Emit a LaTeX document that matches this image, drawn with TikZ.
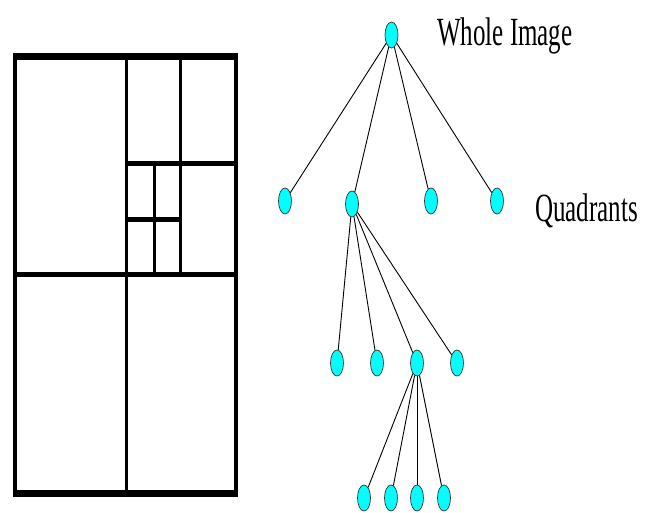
\documentclass[tikz,border=0pt]{standalone}
\usepackage{fontspec}
\usepackage{graphicx}
\setmainfont{Liberation Serif}
\usetikzlibrary{shapes.geometric}
\definecolor{aqua}{RGB}{0,255,255}
\begin{document}
\begin{tikzpicture}[x=1pt,y=-1pt,
  dot/.style={ellipse,draw=black!80,line width=0.7pt,fill=aqua,minimum width=13pt,minimum height=26pt,inner sep=0pt},
  link/.style={line width=0.9pt,black},
  hline/.style={line width=5pt},
  vline/.style={line width=3pt},
  lbl/.style={anchor=base west,inner sep=0pt,font=\fontsize{25}{28}\selectfont}]
\useasboundingbox[fill=white] (0,0) rectangle (654,513);
% quadtree grid
\draw[line width=7pt] (13.3,57) -- (238.3,57);
\draw[line width=7pt] (13.3,493.7) -- (238.3,493.7);
\draw[line width=4pt] (15.3,53.5) -- (15.3,497.2);
\draw[line width=4pt] (236.3,53.5) -- (236.3,497.2);
\draw[hline] (15.3,274.5) -- (236.3,274.5);
\draw[vline] (126.7,57) -- (126.7,493.7);
\draw[vline] (180.7,57) -- (180.7,274.5);
\draw[hline] (126.7,163.3) -- (236.3,163.3);
\draw[vline] (154.3,163.3) -- (154.3,274.5);
\draw[hline] (126.7,220) -- (180.7,220);
% tree
\node[dot] (r) at (391.5,35) {};
\node[dot] (a1) at (285,201) {};
\node[dot] (a2) at (352,204) {};
\node[dot] (a3) at (431,201) {};
\node[dot] (a4) at (497,201) {};
\node[dot] (b1) at (337,363) {};
\node[dot] (b2) at (377,363) {};
\node[dot] (b3) at (417,363) {};
\node[dot] (b4) at (457,363) {};
\node[dot] (c1) at (364,498) {};
\node[dot] (c2) at (391,498) {};
\node[dot] (c3) at (417,498) {};
\node[dot] (c4) at (444,498) {};
\foreach \n in {a1,a2,a3,a4} \draw[link] (r) -- (\n);
\foreach \n in {b1,b2,b3,b4} \draw[link] (a2) -- (\n);
\foreach \n in {c1,c2,c3,c4} \draw[link] (b3) -- (\n);
\node[lbl] (t1) at (437,46) {\scalebox{1}[1.6]{Whole Image}};
\node[lbl] (t2) at (535,222) {\scalebox{1}[1.6]{Quadrants}};
\end{tikzpicture}
\end{document}
